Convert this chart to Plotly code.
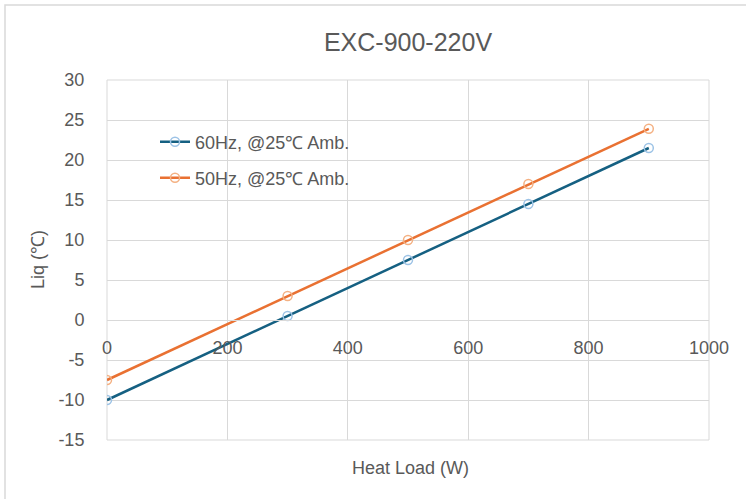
import plotly.graph_objects as go

# Data
heat_load = [0, 300, 500, 700, 900]
liq_60hz = [-10.0, 0.5, 7.5, 14.5, 21.5]
liq_50hz = [-7.5, 3.0, 10.0, 17.0, 23.9]
series_names = ["60Hz, @25℃ Amb.", "50Hz, @25℃ Amb."]
x_ticks = [0, 200, 400, 600, 800, 1000]
y_ticks = [-15, -10, -5, 0, 5, 10, 15, 20, 25, 30]

FONT = "Liberation Sans, Arial, sans-serif"
GRAY = "#595959"
GRID = "#D9D9D9"

W, H = 746, 499
L, R, T, B = 107, 37, 80, 59
pw, ph = W - L - R, H - T - B


def px_x(p):
    return (p - L) / pw


def px_y(p):
    return (H - B - p) / ph


fig = go.Figure()
fig.add_trace(go.Scatter(
    x=heat_load, y=liq_60hz, name=series_names[0], mode="lines+markers",
    line=dict(color="#156082", width=2.5),
    marker=dict(symbol="circle-open", size=9, color="#9DC3E6", line=dict(width=1.5)),
    legend="legend",
))
fig.add_trace(go.Scatter(
    x=heat_load, y=liq_50hz, name=series_names[1], mode="lines+markers",
    line=dict(color="#E97132", width=2.5),
    marker=dict(symbol="circle-open", size=9, color="#F4B183", line=dict(width=1.5)),
    legend="legend2",
))

y_min, y_max = -15, 30
zero_pos = (0 - y_min) / (y_max - y_min)

fig.update_layout(
    width=W, height=H,
    margin=dict(l=L, r=R, t=T, b=B),
    paper_bgcolor="white", plot_bgcolor="white",
    font=dict(family=FONT, size=18, color=GRAY),
    title=dict(text="EXC-900-220V", x=0.5, xref="paper", y=1 - 42 / H, yanchor="middle",
               xanchor="center", font=dict(size=25, color=GRAY, family=FONT)),
    xaxis=dict(range=[0, 1000], tickvals=x_ticks, ticktext=[str(v) for v in x_ticks],
               showgrid=True, gridcolor=GRID, gridwidth=1,
               zeroline=False, showline=True, linecolor=GRID, linewidth=1,
               anchor="free", position=zero_pos,
               ticks="outside", ticklen=11, tickcolor="rgba(0,0,0,0)",
               tickfont=dict(size=18, color=GRAY)),
    yaxis=dict(range=[y_min, y_max], tickvals=y_ticks, ticktext=[str(v) for v in y_ticks],
               showgrid=True, gridcolor=GRID, gridwidth=1,
               zeroline=False, showline=False,
               ticks="outside", ticklen=18, tickcolor="rgba(0,0,0,0)",
               tickfont=dict(size=18, color=GRAY)),
    legend=dict(x=px_x(155), y=px_y(142), xanchor="left", yanchor="middle",
                bgcolor="rgba(0,0,0,0)", font=dict(size=18, color=GRAY)),
    legend2=dict(x=px_x(155), y=px_y(178), xanchor="left", yanchor="middle",
                 bgcolor="rgba(0,0,0,0)", font=dict(size=18, color=GRAY)),
    showlegend=True,
)

# plot-area border and outer chart border
fig.add_shape(type="rect", xref="paper", yref="paper", x0=0, x1=1, y0=0, y1=1,
              line=dict(color=GRID, width=1), layer="below")
fig.add_shape(type="rect", xref="paper", yref="paper",
              x0=px_x(5), x1=px_x(760), y0=px_y(520), y1=px_y(5),
              line=dict(color=GRID, width=1.5), layer="below")

# axis titles
fig.add_annotation(text="Heat Load (W)", xref="paper", yref="paper",
                   x=px_x(410), y=px_y(468), xanchor="center", yanchor="middle",
                   showarrow=False, font=dict(size=18, color=GRAY, family=FONT))
fig.add_annotation(text="Liq (℃)", xref="paper", yref="paper",
                   x=px_x(38), y=px_y(260), xanchor="center", yanchor="middle",
                   textangle=-90, showarrow=False, font=dict(size=18, color=GRAY, family=FONT))

fig.write_html("out.html", config={"displayModeBar": False},
               post_script="document.body.style.margin='0';")
